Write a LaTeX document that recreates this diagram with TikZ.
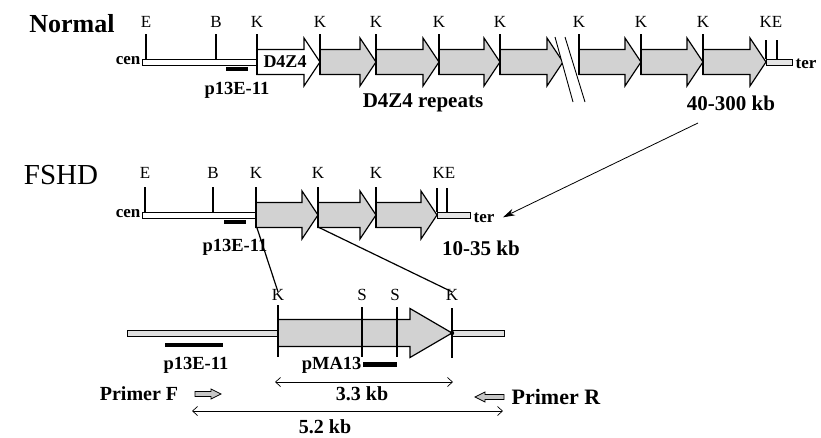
\documentclass[tikz,border=0pt]{standalone}
\usepackage{fontspec}
\setmainfont{Liberation Serif}
\usetikzlibrary{arrows.meta}

\begin{document}
\begin{tikzpicture}[x=1pt,y=-1pt,line width=1.2pt,>=Stealth,
  site/.style={font=\fontsize{17}{17}\selectfont,inner sep=0pt},
  tiny/.style={font=\fontsize{17}{17}\selectfont\bfseries,inner sep=0pt},
  probelbl/.style={font=\fontsize{18.5}{18.5}\selectfont\bfseries,inner sep=0pt},
  big/.style={font=\fontsize{21}{21}\selectfont\bfseries,inner sep=0pt},
  tick/.style={line width=1.3pt},
  bar/.style={draw,line width=1pt,fill=white},
  rep/.style={draw,line width=1.2pt,fill=gray!35},
  probe/.style={fill=black},
  size/.style={line width=0.7pt,{Straight Barb[length=5pt,width=9pt]}-{Straight Barb[length=5pt,width=9pt]}}]
\useasboundingbox (0,0) rectangle (821,437);
% ---------- Normal ----------
\begin{scope}[shift={(0,62)}]
\node[font=\fontsize{26}{26}\selectfont\bfseries] (normal) at (72,-38) {Normal};
% cen / ter
\draw[bar] (142,-3) rectangle (257,3);
\draw[bar,fill=gray!20] (766,-3) rectangle (792,3);
\node[tiny,anchor=base east] (ncen) at (141,2) {cen};
\node[tiny,anchor=base west] (nter) at (795,6) {ter};
% D4Z4 重复单元
\draw[rep,fill=white] (257,-12.5) -- (304,-12.5) -- (304,-24) -- (320,0) -- (304,24) -- (304,12.5) -- (257,12.5) -- cycle;
\node[font=\fontsize{18}{18}\selectfont\bfseries] (nd4z4) at (285,0) {D4Z4};
\foreach \a/\b in {320/376,376/439,439/500,500/563,579/641,641/703,703/766}{
  \draw[rep] (\a,-12.5) -- (\b-16,-12.5) -- (\b-16,-24) -- (\b,0) -- (\b-16,24) -- (\b-16,12.5) -- (\a,12.5) -- cycle;
}
% 断开符号
\fill[white] (555,-25) -- (565,-25) -- (585,40) -- (573,40) -- cycle;
\draw[line width=0.9pt] (555,-25) -- (573,40);
\draw[line width=0.9pt] (565,-25) -- (585,40);
% 酶切位点
\foreach \x/\t in {146/E,216/B}{
  \draw[tick] (\x,-28) -- (\x,-3);
  \node[site] (n\t) at (\x,-40) {\t};
}
\foreach \x [count=\i] in {257,320,376,439,500,579,641,703}{
  \draw[tick] (\x,-28) -- (\x,12.5);
  \node[site] (nK\i) at (\x,-40) {K};
}
\draw[tick] (766,-22) -- (766,-3);
\draw[tick] (777,-22) -- (777,-3);
\node[site] (nKE) at (771,-40) {KE};
% 探针
\fill[probe] (226,5) rectangle (248,9);
\node[probelbl] (nprobe) at (237,28) {p13E-11};
\node[big] (nrep) at (423,41) {D4Z4 repeats};
\node[big] (nsize) at (731,41) {40-300 kb};
\end{scope}
% ---------- FSHD ----------
\begin{scope}[shift={(0,215)}]
\node[font=\fontsize{29}{29}\selectfont] (fshd) at (61,-40) {FSHD};
\draw[bar] (142,-3) rectangle (256,3);
\draw[bar,fill=gray!20] (437,-3) rectangle (470,3);
\node[tiny,anchor=base east] (fcen) at (141,2) {cen};
\node[tiny,anchor=base west] (fter) at (473,7) {ter};
\foreach \a/\b in {256/318,318/376,376/437}{
  \draw[rep] (\a,-12.5) -- (\b-16,-12.5) -- (\b-16,-24) -- (\b,0) -- (\b-16,24) -- (\b-16,12.5) -- (\a,12.5) -- cycle;
}
\foreach \x/\t in {145/E,213/B}{
  \draw[tick] (\x,-28) -- (\x,-3);
  \node[site] (f\t) at (\x,-42) {\t};
}
\foreach \x [count=\i] in {256,318,376}{
  \draw[tick] (\x,-28) -- (\x,12.5);
  \node[site] (fK\i) at (\x,-42) {K};
}
\draw[tick] (437,-27) -- (437,-3);
\draw[tick] (447,-27) -- (447,-3);
\node[site] (fKE) at (444,-42) {KE};
\fill[probe] (224,5) rectangle (246,9);
\node[probelbl] (fprobe) at (235,32) {p13E-11};
\node[big] (fsize) at (481,33) {10-35 kb};
\coordinate (zl) at (257,13);
\coordinate (zr) at (318,12);
\end{scope}
% ---------- 放大的一个 D4Z4 单元 ----------
\begin{scope}[shift={(0,333)}]
\draw[bar,fill=gray!25] (127,-3) rectangle (278,3);
\draw[bar,fill=gray!25] (452,-3) rectangle (504,3);
\draw[rep] (278,-13.5) -- (410,-13.5) -- (410,-24.5) -- (452,0) -- (410,24.5) -- (410,13.5) -- (278,13.5) -- cycle;
\draw[tick] (278,-28) -- (278,24);
\draw[tick] (362,-26) -- (362,24);
\draw[tick] (397,-26) -- (397,24);
\draw[tick] (452,-25) -- (452,25);
\fill (452,0) circle (2.2);
\node[site] (dK1) at (278,-38) {K};
\node[site] (dS1) at (362,-38) {S};
\node[site] (dS2) at (395,-38) {S};
\node[site] (dK2) at (452,-38) {K};
% 探针
\fill[probe] (165,10) rectangle (223,14);
\node[probelbl] (dprobe) at (196,32) {p13E-11};
\fill[probe] (363,29) rectangle (397,34);
\node[probelbl,anchor=east] (dpma) at (362,32) {pMA13};
% 片段大小
\coordinate (s33a) at (275,49);
\coordinate (s33b) at (453,49);
\draw[size] (s33a) -- (s33b);
\node[big,font=\fontsize{20}{20}\selectfont\bfseries] (d33) at (362,61) {3.3 kb};
\coordinate (s52a) at (192,78);
\coordinate (s52b) at (503,78);
\draw[size] (s52a) -- (s52b);
\node[big,font=\fontsize{20}{20}\selectfont\bfseries] (d52) at (325,94) {5.2 kb};
% 引物
\node[big,font=\fontsize{20}{20}\selectfont\bfseries] (primf) at (139,61) {Primer F};
\draw[line width=0.8pt,fill=gray!45] (195,58.5) -- (211,58.5) -- (211,56) -- (221,61) -- (211,66) -- (211,63.5) -- (195,63.5) -- cycle;
\node[big,font=\fontsize{22}{22}\selectfont\bfseries,anchor=west] (primr) at (511,64) {Primer R};
\draw[line width=0.8pt,fill=gray!45] (504,61.5) -- (485,61.5) -- (485,59) -- (475,64) -- (485,69) -- (485,66.5) -- (504,66.5) -- cycle;
\end{scope}
% ---------- 连线 ----------
\draw (zl) -- ([yshift=-3pt]dK1.north);
\draw (zr) -- ([yshift=-3pt]dK2.north);
\draw[line width=0.8pt,-{Stealth[length=12pt,width=7pt]}] ([xshift=-33pt,yshift=-12pt]nsize.south) -- ([xshift=8pt]fter.east);
\end{tikzpicture}
\end{document}
